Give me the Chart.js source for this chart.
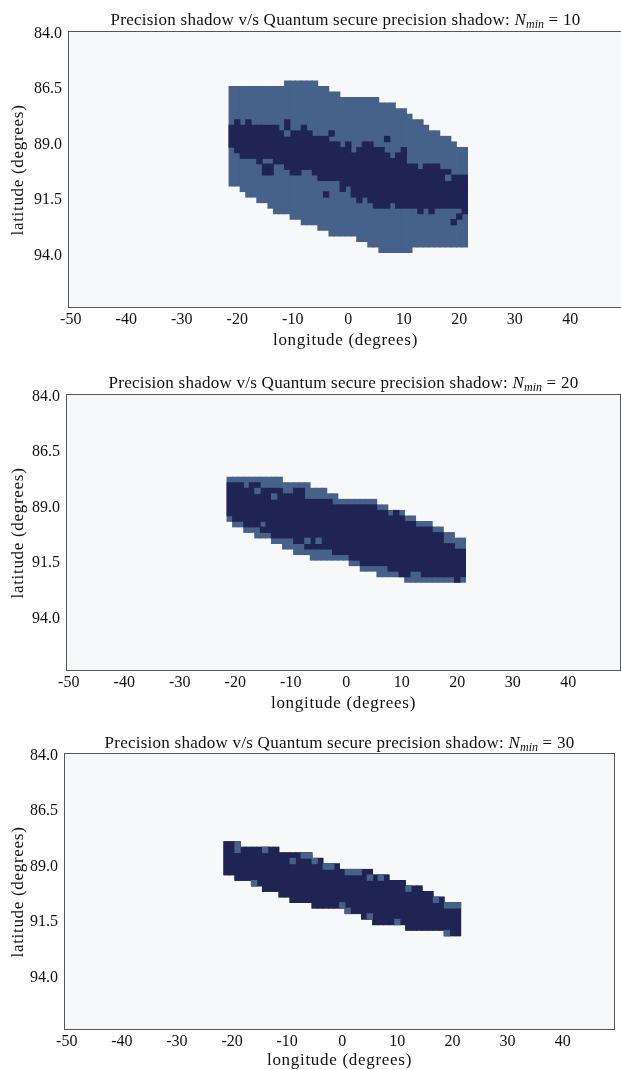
<!DOCTYPE html>
<html>
<head>
<meta charset="utf-8">
<script src="https://cdn.jsdelivr.net/npm/chart.js@4.4.0/dist/chart.umd.min.js"></script>
<style>
  html, body { margin: 0; padding: 0; background: #fff; width: 621px; height: 1070px; overflow: hidden; }
  canvas { position: absolute; left: 0; }
  .title, .axlabel {
    position: absolute; white-space: nowrap; color: #111;
    font-family: "Liberation Serif", serif; line-height: 20px;
    transform: translate(-50%, -50%);
  }
  .title { font-size: 17px; letter-spacing: 0.25px; }
  .axlabel { font-size: 17px; letter-spacing: 0.7px; }
  .axlabel.rot { transform: translate(-50%, -50%) rotate(-90deg); }
  .title sub { font-size: 12px; vertical-align: -3px; line-height: 0; letter-spacing: 0; }
</style>
</head>
<body>
<canvas id="c1"></canvas>
<canvas id="c2"></canvas>
<canvas id="c3"></canvas>
<script>
  // grid: one cell per degree of longitude, 0.25 degree of latitude
  var latStart = 84.0;
  var latStep = 0.25;
  var latRows = 50;
  var lonCategories = [];
  for (var lon = -50; lon <= 49; lon++) lonCategories.push(lon);

  var xTicks = [-50, -40, -30, -20, -10, 0, 10, 20, 30, 40];
  var yTicks = [84.0, 86.5, 89.0, 91.5, 94.0];
  var nMin = [10, 20, 30];

  // longitudes covered by the shadows
  var shapeLon = [-21, -20, -19, -18, -17, -16, -15, -14, -13, -12, -11, -10, -9, -8, -7,
    -6, -5, -4, -3, -2, -1, 0, 1, 2, 3, 4, 5, 6, 7, 8, 9, 10, 11, 12, 13, 14, 15, 16, 17, 18, 19, 20, 21];

  // ---- N_min = 10 ----
  var shadowTop10 = [86.5, 86.5, 86.5, 86.5, 86.5, 86.5, 86.5, 86.5, 86.5, 86.5,
    86.25, 86.25, 86.25, 86.25, 86.25, 86.25, 86.5, 86.5, 86.75, 86.75,
    87, 87, 87, 87, 87, 87, 87, 87.25, 87.25, 87.25, 87.5, 87.5, 87.75,
    88, 88, 88.25, 88.5, 88.5, 88.75, 88.75, 89, 89.25, 89.25];
  var shadowBottom10 = [90.75, 90.75, 91, 91.25, 91.25, 91.5, 91.5, 91.75, 92, 92, 92,
    92.25, 92.25, 92.5, 92.5, 92.5, 92.75, 92.75, 93, 93, 93, 93, 93, 93.25, 93.25,
    93.5, 93.5, 93.75, 93.75, 93.75, 93.75, 93.75, 93.75,
    93.5, 93.5, 93.5, 93.5, 93.5, 93.5, 93.5, 93.5, 93.5, 93.5];
  var secureTop10 = [88.25, 88.25, 88.25, 88.25, 88.25, 88.25, 88.25, 88.25, 88.25, 88.5,
    88, 88.5, 88.5, 88.25, 88.5, 88.75, 88.75, 88.75, 89, 89,
    89.25, 89, 89.5, 89.25, 89, 89, 89.25, 89.25, 89.5, 89.75, 89.5, 89.25,
    90, 90, 90.25, 90, 90, 90, 90.25, 90.25, 90.5, 90.5, 90.5];
  var secureBottom10 = [89, 89.25, 89.5, 89.5, 89.5, 89.75, 89.5, 89.5, 89.75, 89.75,
    90, 90.25, 90.25, 90, 90, 90.25, 90.5, 90.5, 90.5, 90.5, 90.75, 90.75,
    91.25, 91.25, 91.25, 91.5, 91.75, 91.75, 91.75, 91.5, 91.75, 91.75, 91.75, 91.75,
    92, 91.75, 92, 91.75, 91.75, 91.75, 91.75, 91.75, 92];
  var darkSpecks10 = [[-20, 88], [-18, 88], [-3, 88.5], [7, 88.75], [-15, 90], [-15, 90.25],
    [-14, 90], [-14, 90.25], [-4, 91.25], [-1, 91], [2, 91.5], [20, 92.25], [19, 92.5]];
  var lightSpecks10 = [[-11, 88.5], [18, 90.5]];

  // ---- N_min = 20 ----
  var shadowTop20 = [87.75, 87.75, 87.75, 87.75, 87.75, 87.75, 87.75, 87.75, 87.75, 87.75,
    88, 88, 88, 88, 88, 88.25, 88.25, 88.25, 88.5, 88.5,
    88.75, 88.75, 88.75, 88.75, 88.75, 88.75, 88.75, 89, 89, 89.25, 89.25, 89.25,
    89.5, 89.5, 89.75, 89.75, 89.75, 90, 90, 90.25, 90.25, 90.5, 90.5];
  var shadowBottom20 = [89.5, 89.75, 89.75, 90, 90, 90.25, 90.25, 90.25, 90.5, 90.5,
    90.75, 90.75, 91, 91, 91, 91.25, 91.25, 91.25, 91.25, 91.25, 91.25, 91.25,
    91.5, 91.5, 91.75, 91.75, 91.75, 92, 92, 92, 92, 92,
    92.25, 92.25, 92.25, 92.25, 92.25, 92.25, 92.25, 92.25, 92.25, 92.25, 92.25];
  var secureTop20 = [88, 88, 88, 88.25, 88, 88, 88.25, 88.25, 88.25, 88.25,
    88.5, 88.5, 88.25, 88.25, 88.75, 88.75, 88.75, 88.75, 88.75,
    89, 89, 89, 89, 89, 89, 89, 89, 89.25, 89.25, 89.5, 89.5, 89.5,
    89.75, 89.75, 90, 90, 90, 90.25, 90.25, 90.75, 90.75, 91, 91];
  var secureBottom20 = [89.25, 89.5, 89.5, 89.75, 89.75, 89.75, 89.5, 90,
    90.25, 90.25, 90.25, 90.25, 90.5, 90.5, 90.75, 90.75, 90.75, 90.75, 90.75,
    91, 91, 91, 91.25, 91.25, 91.5, 91.5, 91.5, 91.5, 91.5, 91.75, 91.75, 92, 92,
    91.75, 91.75, 92, 92, 92, 92, 92, 92, 92.25, 92];
  var darkSpecks20 = [[-15, 90], [9, 89.25]];
  var lightSpecks20 = [[-13, 88.5], [-16, 88.25], [-7, 90.5], [-5, 90.5]];

  // ---- N_min = 30 ----
  var shadowTop30 = [88, 88, 88, 88.25, 88.25, 88.25, 88.25, 88.25, 88.25, 88.25,
    88.5, 88.5, 88.5, 88.5, 88.5, 88.5, 88.75, 88.75, 89, 89, 89,
    89.25, 89.25, 89.25, 89.25, 89.25, 89.25, 89.5, 89.5, 89.5, 89.75, 89.75, 89.75,
    90, 90, 90, 90.25, 90.25, 90.5, 90.5, 90.75, 90.75, 90.75];
  var shadowBottom30 = [89.25, 89.25, 89.5, 89.5, 89.5, 89.75, 89.75, 90, 90, 90,
    90.25, 90.25, 90.5, 90.5, 90.5, 90.5, 90.75, 90.75, 90.75, 90.75, 90.75, 90.75,
    91, 91, 91, 91.25, 91.25, 91.5, 91.5, 91.5, 91.5, 91.5, 91.5,
    91.75, 91.75, 91.75, 91.75, 91.75, 91.75, 91.75, 92, 92, 92];
  var secureTop30 = shadowTop30.slice();
  var secureBottom30 = shadowBottom30.slice();
  var darkSpecks30 = [];
  var lightSpecks30 = [[-19, 88], [-19, 88.25], [-14, 88.25], [-9, 88.75], [-7, 88.5], [-6, 88.5],
    [-5, 88.75], [-3, 89], [-2, 89], [1, 89.25], [2, 89.25], [3, 89.25], [5, 89.5], [7, 89.5],
    [12, 90], [17, 90.5], [19, 90.75], [20, 90.75], [21, 90.75], [0, 90.75], [1, 91],
    [5, 91.25], [10, 91.5], [19, 92], [-16, 89.75]];

  var shadowColor = '#46628b';
  var secureColor = '#202453';
  var plotBg = '#f7f8fa';
  var frameColor = '#555555';
  var textColor = '#111111';
  var serif = '"Liberation Serif", "Times New Roman", serif';

  function columnBars(top, bottom) {
    var data = lonCategories.map(function() { return null; });
    shapeLon.forEach(function(lon, i) {
      data[lonCategories.indexOf(lon)] = [top[i] - latStep / 2, bottom[i] + latStep / 2];
    });
    return data;
  }

  // single cells, split into layers so that a column holds at most one cell per dataset
  function speckDatasets(specks, color, order) {
    var layers = [];
    specks.forEach(function(s) {
      var idx = lonCategories.indexOf(s[0]);
      var layer = layers.find(function(l) { return l[idx] === null; });
      if (!layer) {
        layer = lonCategories.map(function() { return null; });
        layers.push(layer);
      }
      layer[idx] = [s[1] - latStep / 2, s[1] + latStep / 2];
    });
    return layers.map(function(l) {
      return { data: l, backgroundColor: color, order: order };
    });
  }

  var framePlugin = {
    id: 'frame',
    beforeDatasetsDraw: function(chart) {
      var a = chart.chartArea, ctx = chart.ctx;
      ctx.save();
      ctx.fillStyle = plotBg;
      ctx.fillRect(a.left, a.top, a.right - a.left, a.bottom - a.top);
      ctx.restore();
    },
    afterDatasetsDraw: function(chart) {
      var a = chart.chartArea, ctx = chart.ctx;
      ctx.save();
      ctx.strokeStyle = frameColor;
      ctx.lineWidth = 1;
      ctx.strokeRect(a.left + 0.5, a.top + 0.5, a.right - a.left - 1, a.bottom - a.top - 1);
      ctx.restore();
    }
  };

  function addText(cls, html, x, y) {
    var d = document.createElement('div');
    d.className = cls;
    d.innerHTML = html;
    d.style.left = x + 'px';
    d.style.top = y + 'px';
    document.body.appendChild(d);
  }

  function makePanel(canvasId, n, box, series) {
    var canvas = document.getElementById(canvasId);
    var padTop = 10, xAxisHeight = 30;
    canvas.width = box.right + box.padRight;
    canvas.height = padTop + box.height + xAxisHeight;
    canvas.style.width = canvas.width + 'px';
    canvas.style.height = canvas.height + 'px';
    canvas.style.top = (box.top - padTop) + 'px';

    var cx = (box.left + box.right) / 2;
    addText('title', 'Precision shadow v/s Quantum secure precision shadow: <i>N</i><sub><i>min</i></sub> = ' + n,
      cx, box.titleY);
    addText('axlabel', 'longitude (degrees)', cx, box.top + box.height + box.xLabelGap);
    addText('axlabel rot', 'latitude (degrees)', 18, box.top + box.height / 2);

    var datasets = [
      { data: columnBars(series.shadowTop, series.shadowBottom), backgroundColor: shadowColor, order: 4 },
      { data: columnBars(series.secureTop, series.secureBottom), backgroundColor: secureColor, order: 3 }
    ].concat(speckDatasets(series.light, shadowColor, 2), speckDatasets(series.dark, secureColor, 1));

    var font = { family: serif, size: 16 };

    return new Chart(canvas.getContext('2d'), {
      type: 'bar',
      data: { labels: lonCategories, datasets: datasets },
      options: {
        responsive: false,
        animation: false,
        layout: { padding: { top: padTop, left: 0, right: box.padRight, bottom: 0 } },
        plugins: { legend: { display: false }, tooltip: { enabled: false } },
        datasets: {
          bar: { barPercentage: 1, categoryPercentage: 1, grouped: false, borderWidth: 0, inflateAmount: 0.4 }
        },
        scales: {
          x: {
            type: 'category',
            offset: true,
            grid: { display: false, drawTicks: false },
            border: { display: false },
            ticks: {
              autoSkip: false, maxRotation: 0, minRotation: 0, padding: 2, color: textColor, font: font,
              callback: function(v) {
                var lab = this.getLabelForValue(v);
                return xTicks.indexOf(lab) >= 0 ? String(lab) : null;
              }
            },
            afterFit: function(s) {
              s.height = xAxisHeight;
              s.paddingLeft = 0; s.paddingRight = 0;
            }
          },
          y: {
            type: 'linear',
            reverse: true,
            min: latStart - latStep / 2,
            max: latStart + (latRows - 0.5) * latStep,
            grid: { display: false, drawTicks: false },
            border: { display: false },
            afterBuildTicks: function(s) {
              s.ticks = yTicks.map(function(v) { return { value: v }; });
            },
            ticks: {
              padding: 6, color: textColor, font: font,
              callback: function(v) { return Number(v).toFixed(1); }
            },
            afterFit: function(s) {
              s.width = box.left;
              s.paddingTop = 0; s.paddingBottom = 0;
            }
          }
        }
      },
      plugins: [framePlugin]
    });
  }

  makePanel('c1', nMin[0], { left: 68, top: 31, right: 623, height: 277, padRight: 0, titleY: 20, xLabelGap: 32 }, {
    shadowTop: shadowTop10, shadowBottom: shadowBottom10, secureTop: secureTop10, secureBottom: secureBottom10,
    dark: darkSpecks10, light: lightSpecks10
  });
  makePanel('c2', nMin[1], { left: 66, top: 394, right: 621, height: 277, padRight: 0, titleY: 383, xLabelGap: 32 }, {
    shadowTop: shadowTop20, shadowBottom: shadowBottom20, secureTop: secureTop20, secureBottom: secureBottom20,
    dark: darkSpecks20, light: lightSpecks20
  });
  makePanel('c3', nMin[2], { left: 64, top: 753, right: 615, height: 277, padRight: 5, titleY: 743, xLabelGap: 30 }, {
    shadowTop: shadowTop30, shadowBottom: shadowBottom30, secureTop: secureTop30, secureBottom: secureBottom30,
    dark: darkSpecks30, light: lightSpecks30
  });
</script>
</body>
</html>
